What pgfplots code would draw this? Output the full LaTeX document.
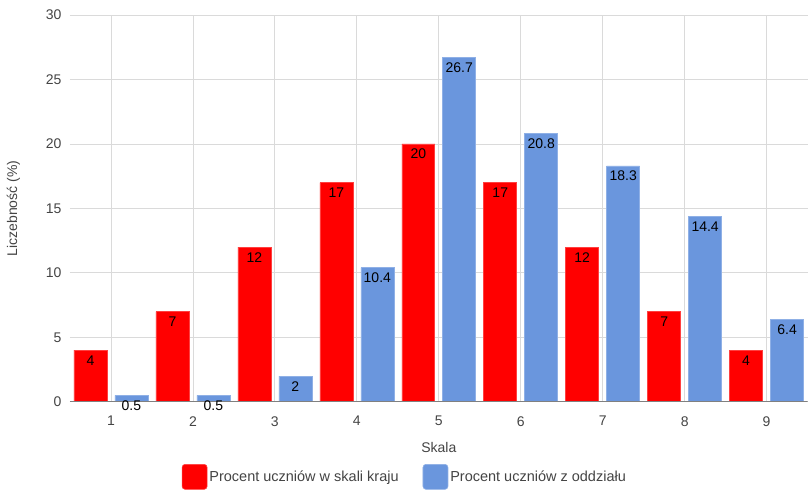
\documentclass[border=0pt]{standalone}
\usepackage{pgfplots}
\pgfplotsset{compat=1.18}
\usepackage{fontspec}
\setmainfont{Liberation Sans}
\definecolor{barred}{HTML}{FF0000}
\definecolor{barblue}{HTML}{6A96DD}
\definecolor{gridc}{HTML}{DADADA}
\definecolor{txt}{HTML}{444444}
\begin{document}
\begin{tikzpicture}
\begin{axis}[
  scale only axis,
  width=738pt, height=387pt,
  ybar, bar width=33pt,
  xmin=0.5, xmax=9.5,
  ymin=0, ymax=30,
  xtick={1,...,9},
  ytick={0,5,...,30},
  major tick length=0pt,
  axis line style={draw=none},
  grid=major,
  major grid style={gridc, line width=0.8pt},
  /pgf/number format/assume math mode=true,
  tick label style={font=\fontsize{14}{16}\selectfont, text=txt},
  yticklabel style={xshift=-5pt},
  xticklabel style={yshift=-11pt},
  xlabel={Skala},
  ylabel={Liczebność (\%)},
  xlabel style={font=\fontsize{14}{16}\selectfont, text=txt, yshift=-9pt},
  ylabel style={font=\fontsize{14}{16}\selectfont, text=txt, yshift=19pt},
  nodes near coords,
  every node near coord/.append style={anchor=north, font=\fontsize{14}{16}\selectfont, text=black, inner sep=0pt, yshift=-5pt},
  legend columns=2,
  legend style={draw=none, at={(rel axis cs:0.454,-0.194)}, anchor=center,
    font=\fontsize{14.5}{16}\selectfont, text=txt,
    /tikz/every even column/.append style={column sep=22pt}},
  legend image code/.code={\fill[rounded corners=3pt] (-2pt,-12.5pt) rectangle (23pt,12.5pt);},
]
\addplot+[bar shift=-20.5pt, fill=barred, draw=barred!75!white, line width=0.6pt] coordinates {
(1,4) (2,7) (3,12) (4,17) (5,20) (6,17) (7,12) (8,7) (9,4)};
\addlegendentry{Procent uczniów w skali kraju}
\addplot+[bar shift=20.5pt, fill=barblue, draw=barblue!75!white, line width=0.6pt] coordinates {
(1,0.5) (2,0.5) (3,2) (4,10.4) (5,26.7) (6,20.8) (7,18.3) (8,14.4) (9,6.4)};
\addlegendentry{Procent uczniów z oddziału}
\draw[gray, line width=0.8pt] (axis cs:0.5,0) -- (axis cs:9.5,0);
\end{axis}
\path (current axis.south west) ++(-70pt,-87pt) coordinate (bbA);
\path (current axis.north east) ++(0pt,15pt) coordinate (bbB);
\path (bbA) (bbB);
\end{tikzpicture}
\end{document}
